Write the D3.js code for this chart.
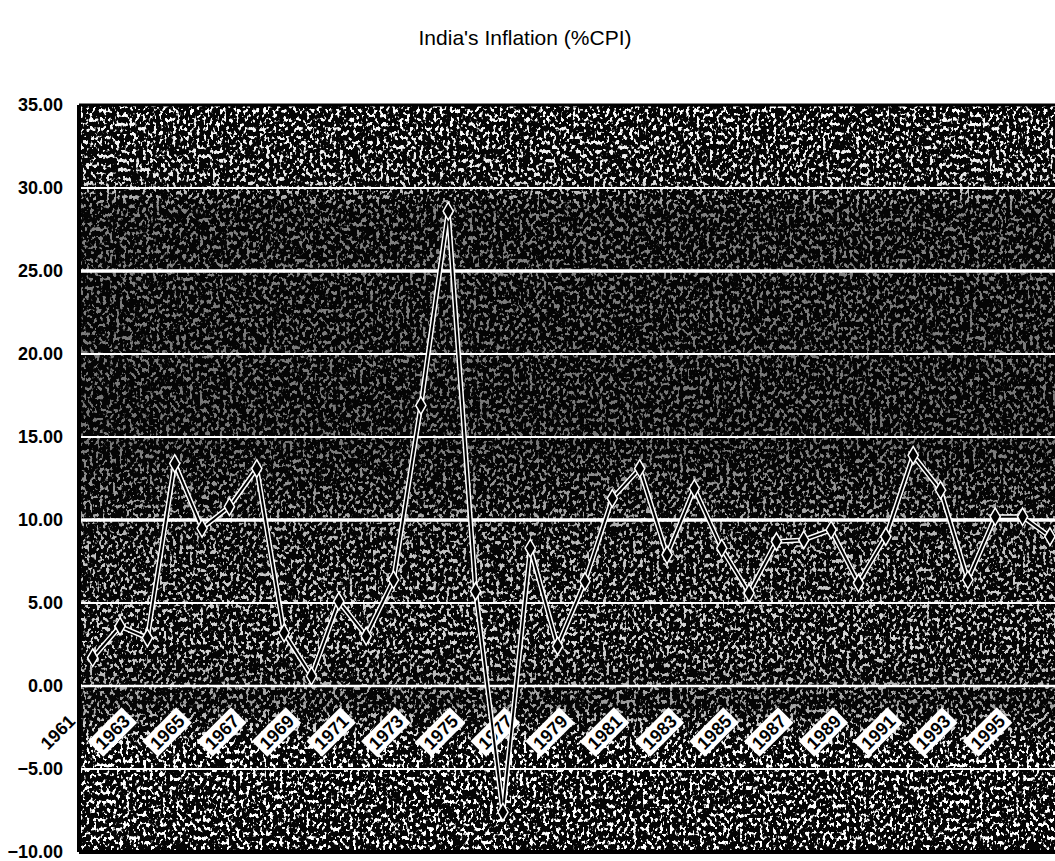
<!DOCTYPE html>
<html>
<head>
<meta charset="utf-8">
<script src="https://cdn.jsdelivr.net/npm/d3@7"></script>
<style>
  body { margin: 0; background: #fff; }
  svg { display: block; font-family: "Liberation Sans", Arial, sans-serif; }
</style>
</head>
<body>
<div id="chart"></div>
<script>
//data
var years = d3.range(1961, 1997);
var inflation = [1.7, 3.6, 2.9, 13.4, 9.5, 10.8, 13.1, 3.2, 0.6, 5.1,
                 3.0, 6.4, 16.9, 28.6, 5.7, -7.6, 8.3, 2.4, 6.3, 11.3,
                 13.1, 7.9, 11.9, 8.3, 5.6, 8.7, 8.8, 9.4, 6.2, 9.0,
                 13.9, 11.8, 6.4, 10.2, 10.2, 9.0];
var yTicks = [-10, -5, 0, 5, 10, 15, 20, 25, 30, 35];
var labelYears = d3.range(1961, 1997, 2);
var titleText = "India's Inflation (%CPI)";

var W = 1055, H = 861;
var margin = {top: 105, left: 79, bottom: 852};
var step = 27.35;

var svg = d3.select("#chart").append("svg")
    .attr("width", W)
    .attr("height", H);

//scales
var x = d3.scaleBand().domain(years).range([margin.left, margin.left + step * years.length]).padding(0);
var y = d3.scaleLinear().domain([-10, 35]).range([margin.bottom, margin.top]);
var xc = function(d) { return x(d) + x.bandwidth() / 2; };
var labPos = function(d) {
    return "translate(" + (xc(d) - 35) + "," + (y(0) + 46) + ") rotate(-45)";
};

//first year label sits outside the plot, plain text, partly under the plot
svg.append("text")
    .attr("transform", labPos(labelYears[0]))
    .attr("text-anchor", "middle")
    .attr("dy", "0.36em")
    .attr("font-size", 18)
    .attr("font-weight", "bold")
    .text(labelYears[0]);

//noisy scan look for the plot background
var defs = svg.append("defs");
var f = defs.append("filter").attr("id", "speck")
    .attr("x", 0).attr("y", 0).attr("width", 1).attr("height", 1);
f.append("feTurbulence").attr("type", "fractalNoise")
    .attr("baseFrequency", "0.3 0.22").attr("numOctaves", 2).attr("seed", 11);
f.append("feColorMatrix").attr("type", "matrix")
    .attr("values", "0 0 0 0 1  0 0 0 0 1  0 0 0 0 1  12 0 0 0 -6.5");

var grad = defs.append("linearGradient").attr("id", "dens")
    .attr("x1", 0).attr("y1", 0).attr("x2", 0).attr("y2", 1);
[[0, 1], [0.1, 0.9], [0.14, 0.5], [0.45, 0.45], [0.6, 0.75], [0.72, 0.85], [0.8, 0.6], [0.86, 1], [1, 1]].forEach(function(s) {
    grad.append("stop").attr("offset", s[0]).attr("stop-color", "#fff").attr("stop-opacity", s[1]);
});
var mask = defs.append("mask").attr("id", "densMask");
mask.append("rect")
    .attr("x", margin.left).attr("y", margin.top)
    .attr("width", W - margin.left).attr("height", margin.bottom - margin.top)
    .attr("fill", "url(#dens)");

var plot = svg.append("g");
plot.append("rect")
    .attr("x", margin.left).attr("y", margin.top)
    .attr("width", W - margin.left).attr("height", margin.bottom - margin.top)
    .attr("fill", "#050505");
plot.append("rect")
    .attr("x", margin.left).attr("y", margin.top)
    .attr("width", W - margin.left).attr("height", margin.bottom - margin.top)
    .attr("filter", "url(#speck)")
    .attr("mask", "url(#densMask)");

//gridlines
plot.selectAll(".grid")
    .data(yTicks.filter(function(d) { return d > -10 && d < 35; }))
    .enter().append("line")
    .attr("class", "grid")
    .attr("x1", margin.left).attr("x2", W)
    .attr("y1", function(d) { return y(d); })
    .attr("y2", function(d) { return y(d); })
    .attr("stroke", "#fff")
    .attr("stroke-width", function(d) { return (d === 25 || d === 10) ? 3.5 : (d === 0 ? 2.5 : 1.8); });

//plot frame
svg.append("line").attr("x1", margin.left).attr("x2", W)
    .attr("y1", margin.top).attr("y2", margin.top)
    .attr("stroke", "#000").attr("stroke-width", 3);
svg.append("line").attr("x1", margin.left).attr("x2", W)
    .attr("y1", margin.bottom).attr("y2", margin.bottom)
    .attr("stroke", "#000").attr("stroke-width", 4);
svg.append("line").attr("x1", margin.left).attr("x2", margin.left)
    .attr("y1", margin.top).attr("y2", margin.bottom)
    .attr("stroke", "#000").attr("stroke-width", 4);

//y axis labels
svg.selectAll(".ylab")
    .data(yTicks)
    .enter().append("text")
    .attr("class", "ylab")
    .attr("x", 63)
    .attr("y", function(d) { return y(d); })
    .attr("dy", "0.35em")
    .attr("text-anchor", "end")
    .attr("font-size", 18)
    .attr("font-weight", "bold")
    .text(function(d) { return d3.format(".2f")(d); });

//year labels on the zero line, rotated, white boxes
var lab = svg.selectAll(".xlab")
    .data(labelYears.slice(1))
    .enter().append("g")
    .attr("class", "xlab")
    .attr("transform", labPos);
lab.append("rect")
    .attr("x", -24).attr("y", -11)
    .attr("width", 48).attr("height", 22)
    .attr("fill", "#fff");
lab.append("text")
    .attr("text-anchor", "middle")
    .attr("dy", "0.36em")
    .attr("font-size", 18)
    .attr("font-weight", "bold")
    .text(function(d) { return d; });

//the series line, dark core with light edge
var line = d3.line()
    .x(function(d, i) { return xc(years[i]); })
    .y(function(d) { return y(d); });
svg.append("path").datum(inflation)
    .attr("d", line)
    .attr("fill", "none")
    .attr("stroke", "#fff")
    .attr("stroke-width", 5)
    .attr("stroke-linejoin", "round");
svg.append("path").datum(inflation)
    .attr("d", line)
    .attr("fill", "none")
    .attr("stroke", "#000")
    .attr("stroke-width", 2)
    .attr("stroke-linejoin", "round");

//diamond markers
svg.selectAll(".pt")
    .data(inflation)
    .enter().append("path")
    .attr("class", "pt")
    .attr("d", d3.symbol().type(d3.symbolDiamond).size(90))
    .attr("transform", function(d, i) { return "translate(" + xc(years[i]) + "," + y(d) + ")"; })
    .attr("fill", "#000")
    .attr("stroke", "#fff")
    .attr("stroke-width", 1.5);

//title
svg.append("text")
    .attr("x", 525).attr("y", 38)
    .attr("dy", "0.35em")
    .attr("text-anchor", "middle")
    .attr("font-size", 21)
    .text(titleText);
</script>
</body>
</html>
